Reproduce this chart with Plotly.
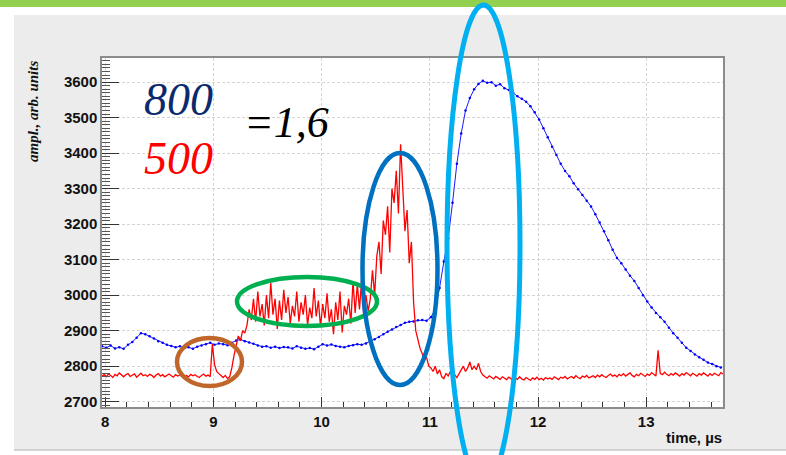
import plotly.graph_objects as go

# ---------------- data ----------------
T0 = 7.97          # first sample time, µs
RED_DT = 0.02      # sampling step of the red trace, µs
BLUE_DT = 0.04     # sampling step of the blue trace, µs

red_values = [
    # 7.97 .. 8.97
    2772, 2776, 2770, 2778, 2774, 2768, 2777, 2773, 2781, 2775,
    2770, 2776, 2779, 2771, 2774, 2778, 2769, 2775, 2780, 2773,
    2776, 2771, 2777, 2774, 2768, 2775, 2779, 2772, 2776, 2770,
    2774, 2778, 2773, 2769, 2776, 2772, 2775, 2779, 2771, 2774,
    2770, 2777, 2773, 2776, 2771, 2768, 2774, 2778, 2772, 2775, 2770,
    # 8.99 .. 9.35
    2862, 2805, 2785, 2779, 2772, 2768, 2774, 2765, 2770, 2795,
    2830, 2860, 2885, 2872, 2900, 2893, 2915, 2960, 2930,
    # 9.37 .. 10.43
    2990, 2925, 3010, 2940, 2975, 2915, 3000, 2935, 3035, 2945,
    2990, 2905, 2985, 2930, 3015, 2950, 2995, 2920, 2970, 2940,
    3010, 2925, 2980, 2945, 3000, 2915, 2965, 2935, 3020, 2940,
    2985, 2910, 2975, 2935, 3005, 2925, 2960, 2890, 2980, 2930,
    3010, 2895, 2970, 2945, 2990, 2920, 3040, 2950, 3030, 2960,
    3045, 2935, 3000, 2955,
    # 10.45 .. 11.49
    2990, 3070, 3000, 3110, 3150, 3060, 3210, 3170, 3250, 3120,
    3300, 3260, 3350, 3230, 3425, 3290, 3180, 3240, 3090, 3150,
    2980, 2900, 2875, 2850, 2835, 2820, 2825, 2800, 2795, 2785,
    2800, 2778, 2790, 2770, 2765, 2780, 2772, 2785, 2770, 2776,
    2768, 2780, 2790, 2800, 2785, 2795, 2812, 2790, 2800, 2790,
    2808, 2785, 2775,
    # 11.51 .. 13.71
    2770, 2766, 2773, 2768, 2764, 2771, 2767, 2763, 2770, 2766,
    2762, 2769, 2765, 2760, 2767, 2763, 2770, 2764, 2761, 2768,
    2764, 2760, 2767, 2763, 2769, 2762, 2766, 2761, 2768, 2764,
    2767, 2763, 2770, 2765, 2762, 2769, 2766, 2771, 2764, 2768,
    2771, 2766, 2773, 2768, 2765, 2772, 2769, 2774, 2767, 2770,
    2773, 2768, 2775, 2770, 2776, 2771, 2768, 2774, 2778, 2772,
    2775, 2770, 2777, 2773, 2779, 2772, 2776, 2781, 2774, 2770,
    2777, 2773, 2780, 2775, 2771, 2778, 2774, 2782, 2776, 2772,
    2845, 2780, 2776, 2783, 2777, 2773, 2779, 2775, 2781, 2776,
    2772, 2779, 2775, 2782, 2777, 2773, 2780, 2776, 2772, 2779,
    2775, 2781, 2776, 2772, 2779, 2774, 2780, 2777, 2773, 2782, 2778,
]

blue_values = [
    2856, 2852, 2858, 2850, 2853, 2849, 2860, 2868, 2880, 2893,
    2890, 2884, 2878, 2870, 2866, 2860, 2857, 2853, 2856, 2851,
    2853, 2849, 2855, 2858, 2862, 2866, 2860, 2864, 2862, 2859,
    2866, 2872, 2875, 2870, 2867, 2863, 2858, 2855, 2856, 2852,
    2855, 2851, 2854, 2853, 2850, 2856, 2852, 2849, 2851, 2848,
    2855, 2862, 2858, 2861, 2857, 2855, 2853, 2857, 2859, 2862,
    2860, 2864, 2870, 2876, 2882, 2890, 2897, 2903, 2910, 2916,
    2922, 2925, 2926, 2929, 2930, 2928, 2938, 2960, 3020, 3095,
    3160, 3260, 3370, 3455, 3520, 3555, 3580, 3595, 3604, 3598,
    3600, 3590, 3594, 3583, 3578, 3570, 3560, 3553, 3545, 3532,
    3515, 3495, 3470, 3445, 3418, 3395, 3370, 3350, 3335, 3315,
    3298, 3282, 3266, 3250, 3228, 3205, 3180, 3155, 3128, 3105,
    3090, 3072, 3055, 3040, 3020, 3000, 2982, 2965, 2950, 2938,
    2925, 2908, 2893, 2880, 2866, 2852, 2843, 2833, 2825, 2818,
    2810, 2806, 2800, 2796,
]

x_tick_vals = [8, 9, 10, 11, 12, 13]
y_tick_vals = [2700, 2800, 2900, 3000, 3100, 3200, 3300, 3400, 3500, 3600]

x_title = "time, µs"
y_title = "ampl., arb. units"
label_800 = "800"
label_500 = "500"
label_ratio = "=1,6"

red_t = [round(T0 + i * RED_DT, 4) for i in range(len(red_values))]
blue_t = [round(T0 + i * BLUE_DT, 4) for i in range(len(blue_values))]

# ---------------- figure ----------------
fig = go.Figure()
fig.add_trace(go.Scatter(
    x=blue_t, y=blue_values, mode="lines+markers",
    line=dict(color="#1a1aff", width=1),
    marker=dict(color="#0000ff", size=2.5),
    showlegend=False, hoverinfo="skip"))
fig.add_trace(go.Scatter(
    x=red_t, y=red_values, mode="lines",
    line=dict(color="#ff0000", width=1.3),
    showlegend=False, hoverinfo="skip"))

W, H = 786, 455
L, R, T, B = 102, 63, 58, 48
pw, ph = W - L - R, H - T - B


def px(xp):
    return (xp - L) / pw


def py(yp):
    return (H - B - yp) / ph


shapes = [
    # grey canvas panel
    dict(type="rect", xref="paper", yref="paper", layer="below",
         x0=px(14), x1=px(786), y0=py(450), y1=py(15),
         fillcolor="#ececec", line=dict(width=0)),
    # white frame interior
    dict(type="rect", xref="paper", yref="paper", layer="below",
         x0=0, x1=1, y0=0, y1=1, fillcolor="#ffffff", line=dict(width=0)),
    # panel bottom border
    dict(type="line", xref="paper", yref="paper", layer="below",
         x0=px(14), x1=px(786), y0=py(450), y1=py(450),
         line=dict(color="#c8c8c8", width=1.5)),
    # green top bar
    dict(type="rect", xref="paper", yref="paper", layer="below",
         x0=px(0), x1=px(786), y0=py(7), y1=py(0),
         fillcolor="#92d050", line=dict(width=0)),
    # ellipses
    dict(type="circle", xref="paper", yref="paper",
         x0=px(177), x1=px(242), y0=py(386), y1=py(338),
         line=dict(color="#c0662a", width=4.5)),
    dict(type="circle", xref="paper", yref="paper",
         x0=px(237), x1=px(377), y0=py(326), y1=py(277),
         line=dict(color="#00b050", width=4.5)),
    dict(type="circle", xref="paper", yref="paper",
         x0=px(362.5), x1=px(437.5), y0=py(385), y1=py(153),
         line=dict(color="#0070c0", width=4.5)),
    dict(type="circle", xref="paper", yref="paper",
         x0=px(447), x1=px(520), y0=py(485), y1=py(5),
         line=dict(color="#00b0f0", width=5)),
]

serif = "Liberation Serif, Times New Roman, serif"
sans = "Liberation Sans, Arial, sans-serif"

annotations = [
    dict(text="<i>" + label_800 + "</i>", xref="paper", yref="paper",
         x=px(178), y=py(99), xanchor="center", yanchor="middle",
         showarrow=False, font=dict(family=serif, size=46, color="#0b2a6e")),
    dict(text="<i>" + label_500 + "</i>", xref="paper", yref="paper",
         x=px(178), y=py(158), xanchor="center", yanchor="middle",
         showarrow=False, font=dict(family=serif, size=46, color="#ff0000")),
    dict(text="<i>" + label_ratio + "</i>", xref="paper", yref="paper",
         x=px(286), y=py(123), xanchor="center", yanchor="middle",
         showarrow=False, font=dict(family=serif, size=44, color="#000000")),
    dict(text="<b><i>" + y_title + "</i></b>", xref="paper", yref="paper",
         x=px(33), y=py(112), xanchor="center", yanchor="middle",
         textangle=-90, showarrow=False,
         font=dict(family=serif, size=15, color="#111111")),
    dict(text="<b>" + x_title + "</b>", xref="paper", yref="paper",
         x=px(724), y=py(437), xanchor="right", yanchor="middle",
         showarrow=False, font=dict(family=sans, size=15, color="#111111")),
]

fig.update_layout(
    width=W, height=H, autosize=False,
    margin=dict(l=L, r=R, t=T, b=B, pad=0),
    paper_bgcolor="#ffffff", plot_bgcolor="#ffffff",
    shapes=shapes, annotations=annotations, showlegend=False,
)

fig.update_xaxes(
    range=[7.97, 13.71], tickmode="array", tickvals=x_tick_vals,
    ticks="inside", ticklen=10, tickwidth=1, tickcolor="#333333",
    minor=dict(dtick=0.2, tick0=8, ticks="inside", ticklen=5,
               tickcolor="#333333", showgrid=False),
    showgrid=True, gridcolor="#d4d4d4", gridwidth=1, griddash="3px,2px",
    showline=True, mirror=True, linecolor="#8c8c8c", linewidth=1.5,
    zeroline=False,
    tickfont=dict(family=sans, size=15, color="#111111", weight="bold"),
)
fig.update_yaxes(
    range=[2685, 3668], tickmode="array", tickvals=y_tick_vals,
    ticks="inside", ticklen=17, tickwidth=1, tickcolor="#333333",
    minor=dict(dtick=10, tick0=2700, ticks="inside", ticklen=8,
               tickcolor="#555555", showgrid=False),
    showgrid=True, gridcolor="#d4d4d4", gridwidth=1, griddash="3px,2px",
    showline=True, mirror=True, linecolor="#8c8c8c", linewidth=1.5,
    zeroline=False,
    tickfont=dict(family=sans, size=15, color="#111111", weight="bold"),
)

fig.write_html(
    "out.html",
    config={"displayModeBar": False},
    post_script="document.body.style.margin='0px';document.body.style.padding='0px';",
)
